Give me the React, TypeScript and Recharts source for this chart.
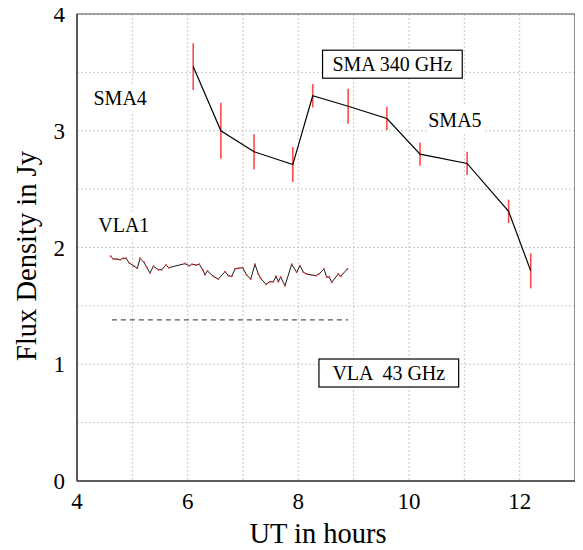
import React from 'react';
import {
  ComposedChart, Line, XAxis, YAxis, CartesianGrid, ErrorBar, ReferenceDot, ReferenceArea,
} from 'recharts';

// SMA 340 GHz measurements: UT hours, flux (Jy), error (Jy)
const smaHours = [6.1, 6.6, 7.2, 7.9, 8.26, 8.9, 9.6, 10.2, 11.05, 11.8, 12.2];
const smaFlux = [3.55, 3.0, 2.82, 2.71, 3.3, 3.21, 3.105, 2.8, 2.72, 2.31, 1.8];
const smaErr = [0.2, 0.24, 0.15, 0.15, 0.1, 0.15, 0.1, 0.1, 0.1, 0.1, 0.15];

// VLA 43 GHz light curve
const vlaHours = [
  4.608, 4.657, 4.717, 4.777, 4.837, 4.886, 4.946, 5.018, 5.09, 5.139, 5.211, 5.259, 5.319, 5.38,
  5.47, 5.53, 5.609, 5.657, 5.952, 6.03, 6.078, 6.151, 6.211, 6.271, 6.313, 6.356, 6.464, 6.554,
  6.675, 6.735, 6.795, 6.856, 6.916, 6.994, 7.066, 7.139, 7.217, 7.277, 7.319, 7.416, 7.488,
  7.548, 7.597, 7.639, 7.681, 7.759, 7.88, 7.97, 8.03, 8.091, 8.151, 8.241, 8.32, 8.38, 8.464,
  8.512, 8.56, 8.603, 8.723, 8.765, 8.886,
];
const vlaFlux = [
  1.924, 1.901, 1.901, 1.896, 1.907, 1.907, 1.867, 1.844, 1.822, 1.907, 1.873, 1.83, 1.782, 1.839,
  1.81, 1.81, 1.85, 1.827, 1.862, 1.844, 1.856, 1.85, 1.856, 1.81, 1.767, 1.799, 1.753, 1.73,
  1.793, 1.759, 1.753, 1.816, 1.822, 1.827, 1.764, 1.73, 1.856, 1.773, 1.736, 1.685, 1.707,
  1.707, 1.753, 1.707, 1.747, 1.673, 1.856, 1.788, 1.844, 1.788, 1.773, 1.764, 1.759, 1.776,
  1.816, 1.747, 1.747, 1.702, 1.773, 1.753, 1.816,
];

// dashed reference level
const dashHours = [4.63, 8.9];
const dashFlux = [1.38, 1.38];

// annotations
const labelTexts = ['SMA4', 'SMA5', 'VLA1', 'SMA 340 GHz', 'VLA  43 GHz'];
const labelHours = [4.78, 10.83, 4.846, 9.7, 9.635];
const labelFlux = [3.28, 3.09, 2.19, 3.57, 0.925];
const labelBoxed = [false, false, false, true, true];

const xTicks = [4, 5, 6, 7, 8, 9, 10, 11, 12, 13];
const yTicks = [0, 0.5, 1, 1.5, 2, 2.5, 3, 3.5, 4];

const smaData = smaHours.map((x, i) => ({ x, y: smaFlux[i], err: smaErr[i] }));
const vlaData = vlaHours.map((x, i) => ({ x, y: vlaFlux[i] }));
const dashData = dashHours.map((x, i) => ({ x, y: dashFlux[i] }));

const FONT = '"Liberation Serif", "Times New Roman", serif';

const makeShape = (text: string, boxed: boolean) => (props: any) => {
  const { cx, cy } = props;
  const fs = 20;
  const w = boxed ? text.length * 12.7 : text.length * 14;
  const h = 28;
  return (
    <g>
      <rect
        x={cx - w / 2}
        y={cy - h / 2}
        width={w}
        height={h}
        fill="#fff"
        stroke={boxed ? '#000' : 'none'}
        strokeWidth={1.2}
      />
      <text
        x={cx}
        y={cy + 7}
        textAnchor="middle"
        fontFamily={FONT}
        fontSize={fs}
        fill="#000"
        style={{ whiteSpace: 'pre' }}
      >
        {text}
      </text>
    </g>
  );
};

const XTitle = () => (
  <text x={318} y={543} textAnchor="middle" fontFamily={FONT} fontSize={28.5} fill="#000">
    UT in hours
  </text>
);

const YTitle = () => (
  <text
    transform="translate(36, 256) rotate(-90)"
    x={0}
    y={0}
    textAnchor="middle"
    fontFamily={FONT}
    fontSize={28.5}
    fill="#000"
  >
    Flux Density in Jy
  </text>
);

export default function App() {
  return (
    <div style={{ marginLeft: -8, marginTop: -8, width: 583, height: 550 }}>
      <ComposedChart
        width={583}
        height={550}
        margin={{ top: 14, right: 8, left: 0, bottom: 0 }}
        style={{ background: '#fff' }}
      >
        <CartesianGrid stroke="#c8c8c8" strokeDasharray="2 2" />
        <XAxis
          type="number"
          dataKey="x"
          domain={[4, 13]}
          ticks={xTicks}
          tickFormatter={(v: number) => (v % 2 === 0 && v < 13 ? String(v) : '')}
          tickLine={false}
          tickSize={0}
          tickMargin={12}
          height={69}
          axisLine={{ stroke: '#444', strokeWidth: 1.5 }}
          tick={{ fill: '#000', fontFamily: FONT, fontSize: 23 }}
          allowDataOverflow
          label={XTitle}
        />
        <YAxis
          type="number"
          dataKey="y"
          domain={[0, 4]}
          ticks={yTicks}
          tickFormatter={(v: number) => (Number.isInteger(v) ? String(v) : '')}
          tickLine={false}
          tickSize={0}
          tickMargin={12}
          width={77}
          axisLine={{ stroke: '#444', strokeWidth: 1.5 }}
          tick={{ fill: '#000', fontFamily: FONT, fontSize: 23 }}
          allowDataOverflow
          label={YTitle}
        />
        <ReferenceArea x1={4} x2={13} y1={0} y2={4} fill="none" stroke="#555" strokeWidth={1.2} />
        <Line
          data={dashData}
          dataKey="y"
          stroke="#555"
          strokeWidth={1.2}
          strokeDasharray="5 4"
          dot={false}
          isAnimationActive={false}
        />
        <Line
          data={vlaData}
          dataKey="y"
          stroke="#1a1a1a"
          strokeWidth={1}
          dot={{ r: 1, fill: '#e04040', stroke: 'none' }}
          isAnimationActive={false}
        />
        <Line
          data={smaData}
          dataKey="y"
          stroke="#000"
          strokeWidth={1.2}
          dot={false}
          isAnimationActive={false}
        >
          <ErrorBar dataKey="err" width={0} stroke="#ff4a4a" strokeWidth={1.6} direction="y" />
        </Line>
        {labelTexts.map((t, i) => (
          <ReferenceDot
            key={t}
            x={labelHours[i]}
            y={labelFlux[i]}
            r={0}
            shape={makeShape(t, labelBoxed[i])}
          />
        ))}
      </ComposedChart>
    </div>
  );
}
